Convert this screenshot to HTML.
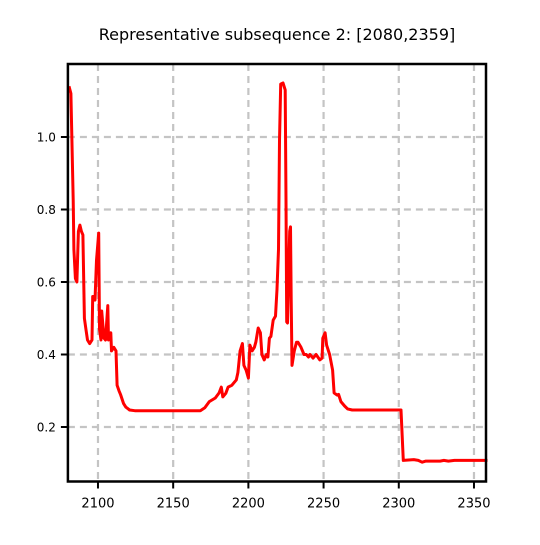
<!DOCTYPE html>
<html><head><meta charset="utf-8"><style>
html,body{margin:0;padding:0;background:#fff;}
svg text{font-family:"DejaVu Sans","Liberation Sans",sans-serif;}
</style></head><body>
<svg id="chart" width="540" height="540" viewBox="0 0 540 540" xmlns="http://www.w3.org/2000/svg">
<rect width="540" height="540" fill="#fff"/>
<text x="277" y="40" text-anchor="middle" font-size="16" fill="#000">Representative subsequence 2: [2080,2359]</text>
<g id="grid"></g>
<g id="series"></g>
<g id="axes"></g>
</svg>
<script>
const xTicks=[2100,2150,2200,2250,2300,2350];
const yTicks=[0.2,0.4,0.6,0.8,1.0];
const yTickLabels=["0.2","0.4","0.6","0.8","1.0"];
const xs=[2080.7,2082,2083.5,2084,2085,2086,2087,2088,2089,2090,2091,2092,2093,2094.5,2096,2096.5,2097,2098,2099,2100.5,2101,2102,2102.5,2104,2105,2106.5,2107,2108.5,2109,2110.5,2112,2112.7,2114,2115,2117,2118.5,2121,2124.5,2168,2171,2174,2178,2180.5,2182,2183,2185,2186.5,2189,2192,2193,2194.5,2196,2197,2198.5,2200,2201,2202.5,2204,2205,2206.5,2208,2209,2210.5,2212,2213,2214,2215,2216.5,2218,2219,2220,2220.7,2221.5,2223,2224.5,2225,2225.5,2226,2227.5,2228,2228.5,2229,2230.5,2232,2233,2235,2237,2238.5,2240,2241,2243,2245,2247.5,2249,2249.5,2251,2252,2254,2256,2257,2259,2260,2261.5,2264,2266,2269,2301.5,2303,2310,2313,2315.5,2318,2327.5,2330,2333,2337,2347,2359];
const ys=[1.14,1.12,0.826,0.69,0.61,0.60,0.74,0.757,0.74,0.73,0.50,0.47,0.44,0.43,0.44,0.56,0.56,0.55,0.66,0.735,0.47,0.44,0.52,0.445,0.44,0.535,0.44,0.46,0.41,0.42,0.41,0.315,0.30,0.29,0.265,0.255,0.247,0.245,0.245,0.253,0.27,0.28,0.294,0.31,0.283,0.293,0.31,0.315,0.33,0.35,0.41,0.43,0.37,0.357,0.335,0.426,0.41,0.42,0.435,0.473,0.46,0.40,0.385,0.40,0.393,0.445,0.45,0.495,0.506,0.58,0.69,0.99,1.146,1.149,1.13,0.826,0.49,0.487,0.74,0.752,0.55,0.37,0.41,0.434,0.434,0.42,0.40,0.40,0.393,0.40,0.39,0.40,0.385,0.39,0.445,0.46,0.426,0.40,0.357,0.294,0.288,0.29,0.27,0.258,0.25,0.247,0.247,0.108,0.11,0.108,0.103,0.106,0.106,0.108,0.106,0.108,0.108,0.108];
const X0=67.9,X1=486,Y0=64,Y1=481.5;
const xMin=2080;
function sx(v){return X0+(v-xMin)*1.504;}
function sy(v){return 137-(v-1.0)*362.5;}
const NS="http://www.w3.org/2000/svg";
function mk(tag,attrs,parent){const e=document.createElementNS(NS,tag);for(const k in attrs)e.setAttribute(k,attrs[k]);parent.appendChild(e);return e;}
const grid=document.getElementById('grid'),axes=document.getElementById('axes'),series=document.getElementById('series');
xTicks.forEach(t=>{
 const x=sx(t);
 const g=mk('line',{x1:x,x2:x,y1:Y0,y2:Y1,stroke:'#c4c4c4','stroke-width':2.2,'stroke-dasharray':'7,5'},grid);
 
 
 const tk=mk('line',{x1:x,x2:x,y1:Y1,y2:Y1+7,stroke:'#000','stroke-width':2},axes);
 
 
 const tx=mk('text',{x:x,y:Y1+26,'text-anchor':'middle','font-size':'13',fill:'#000'},axes);
 tx.textContent=t;
 
 
});
yTicks.forEach((t,i)=>{
 const y=sy(t);
 const g=mk('line',{x1:X0,x2:X1,y1:y,y2:y,stroke:'#c4c4c4','stroke-width':2.2,'stroke-dasharray':'7,5'},grid);
 
 
 const tk=mk('line',{x1:X0-7,x2:X0,y1:y,y2:y,stroke:'#000','stroke-width':2},axes);
 
 
 const tx=mk('text',{x:X0-12,y:y+4.5,'text-anchor':'end','font-size':'12',fill:'#000'},axes);
 tx.textContent=yTickLabels[i];
 
 
});
const frame=mk('rect',{x:X0,y:Y0,width:X1-X0,height:Y1-Y0,fill:'none',stroke:'#000','stroke-width':2.5},axes);


const d=xs.map((v,i)=>(i?'L':'M')+sx(v).toFixed(1)+','+sy(ys[i]).toFixed(1)).join(' ');
const line=mk('path',{d:d,fill:'none',stroke:'#ff0000','stroke-width':3,'stroke-linejoin':'round'},series);


</script>
</body></html>
